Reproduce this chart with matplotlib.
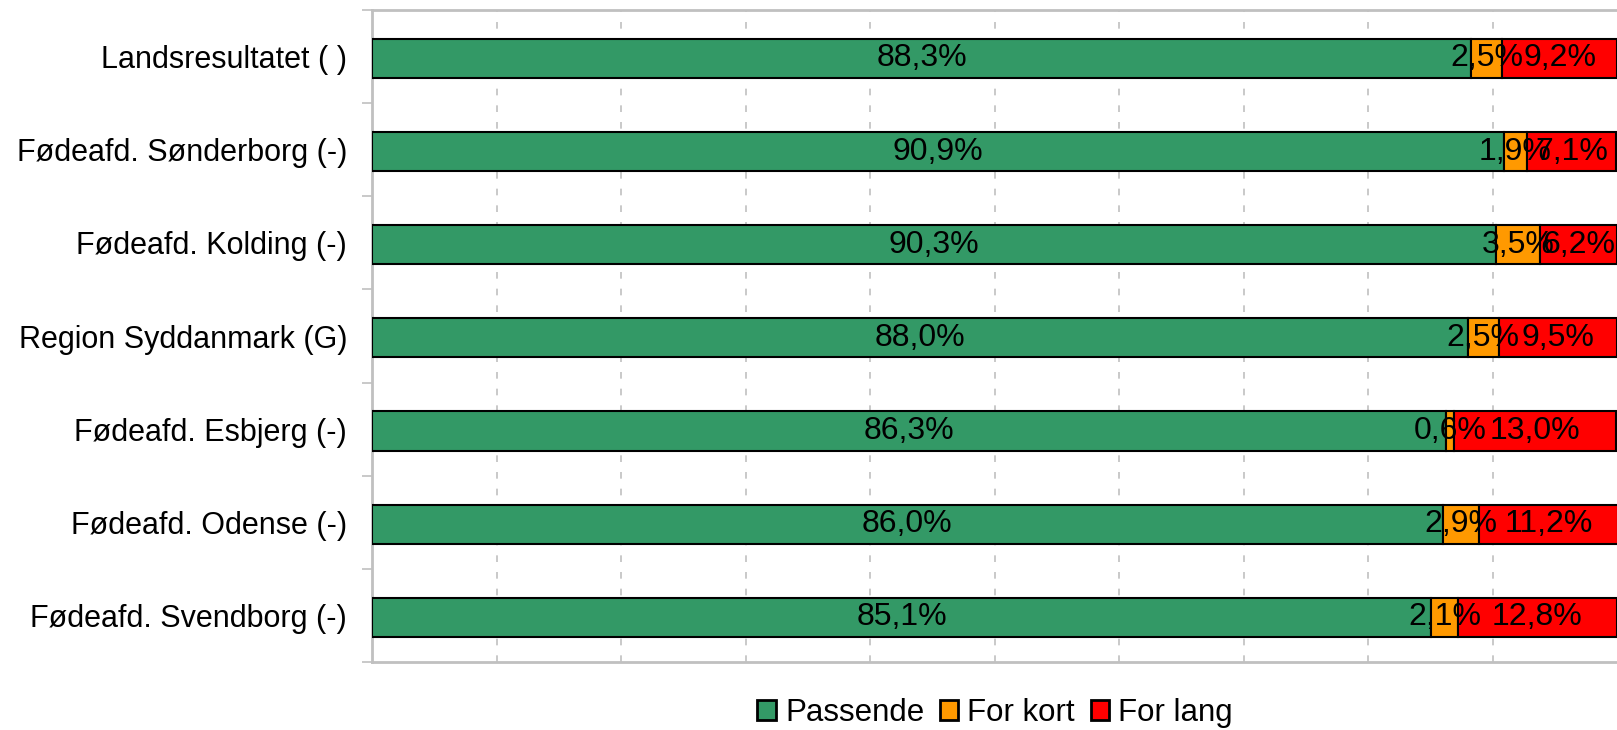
import numpy as np
import matplotlib
matplotlib.use("Agg")
import matplotlib.pyplot as plt
from matplotlib.patches import Patch

plt.rcParams['font.family'] = ['Liberation Sans', 'DejaVu Sans']

categories = ["Landsresultatet ( )", "Fødeafd. Sønderborg (-)", "Fødeafd. Kolding (-)",
              "Region Syddanmark (G)", "Fødeafd. Esbjerg (-)", "Fødeafd. Odense (-)",
              "Fødeafd. Svendborg (-)"]
passende = [88.3, 90.9, 90.3, 88.0, 86.3, 86.0, 85.1]
for_kort = [2.5, 1.9, 3.5, 2.5, 0.6, 2.9, 2.1]
for_lang = [9.2, 7.1, 6.2, 9.5, 13.0, 11.2, 12.8]
series_names = ["Passende", "For kort", "For lang"]
colors = ["#339966", "#FF9900", "#FF0000"]

fig = plt.figure(figsize=(16.17, 7.30), dpi=100)
ax = fig.add_axes([372/1617, 1-662/730, 1-372/1617, (662-10)/730])

y = np.arange(len(categories)) + 0.02
left = np.zeros(len(categories))
for vals, name, c in zip([passende, for_kort, for_lang], series_names, colors):
    vals = np.array(vals)
    ax.barh(y, vals, left=left, height=0.42, color=c, edgecolor="black",
            linewidth=1.5, zorder=3, label=name)
    for yi, l, v in zip(y, left, vals):
        ax.text(l + v/2, yi, f"{v:.1f}%".replace(".", ","), ha="center", va="center",
                fontsize=23, color="black", zorder=5)
    left = left + vals

ax.set_xlim(0, 100)
ax.set_ylim(len(categories) - 0.5, -0.5)
ax.set_yticks(np.arange(len(categories)))
ax.set_yticklabels(categories, fontsize=22)
ax.set_yticks(np.arange(-0.5, len(categories)), minor=True)
ax.tick_params(axis="y", which="major", length=0, pad=18)
ax.tick_params(axis="y", which="minor", length=7, color="#c0c0c0", width=1.2)
ax.set_xticks(np.arange(10, 100, 10))
ax.tick_params(axis="x", length=0, labelbottom=False)
ax.xaxis.grid(True, color="#c0c0c0", linestyle=(0, (4, 6)), linewidth=1.2, zorder=0)

for s in ["left", "top", "bottom"]:
    ax.spines[s].set_color("#c0c0c0")
    ax.spines[s].set_linewidth(2)
ax.spines["right"].set_visible(False)

handles = [Patch(facecolor=c, edgecolor="black", linewidth=2, label=n)
           for c, n in zip(colors, series_names)]
fig.legend(handles=handles, loc="center", bbox_to_anchor=(995/1617, 1-713/730),
           ncol=3, frameon=False, fontsize=22.5, handlelength=0.58, handleheight=0.58,
           handletextpad=0.3, columnspacing=0.5)

fig.savefig("out.png", dpi=100)
